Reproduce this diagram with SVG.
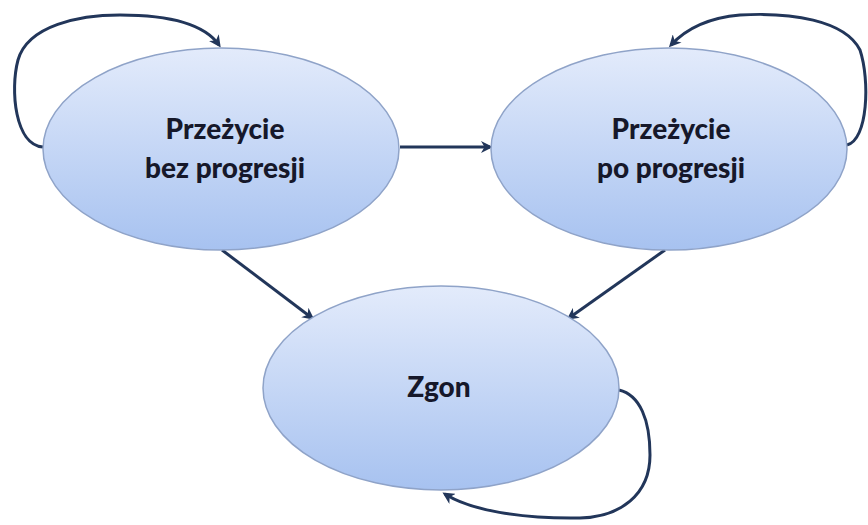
<svg xmlns="http://www.w3.org/2000/svg" width="868" height="525" viewBox="0 0 868 525">
<defs>
<linearGradient id="g" x1="0" y1="0" x2="0" y2="1">
<stop offset="0" stop-color="#e3ebfb"/>
<stop offset="1" stop-color="#a7c2f0"/>
</linearGradient>
<marker id="ah" markerWidth="12" markerHeight="12" refX="9" refY="6" orient="auto" markerUnits="userSpaceOnUse" viewBox="0 0 12 12">
<path d="M0,0 L12,6 L0,12 L3.5,6 Z" fill="#22365a"/>
</marker>
<style>
.node ellipse{fill:url(#g);stroke:#8fa3c8;stroke-width:1.5}
.node text{font-family:"Lato","Liberation Sans",sans-serif;font-weight:900;font-size:28px;fill:#16182a;text-anchor:middle}
.edges path{fill:none;stroke:#22365a;stroke-width:3;marker-end:url(#ah)}
</style>
</defs>
<rect width="868" height="525" fill="#ffffff"/>
<g class="edges">
<path d="M400,147 L490,147"/>
<path d="M222,250 L312,318"/>
<path d="M665,250 L569,318"/>
<path d="M43,147 C15,145 10,90 18,60 C28,25 80,15 120,15 C170,15 205,25 219,45"/>
<path d="M847,145 C868,140 870,80 860,50 C845,20 790,12 740,15 C705,18 685,30 671,45"/>
<path d="M619,390 C640,395 650,420 650,455 C650,495 620,517 580,518 C520,519 470,510 445,494"/>
</g>
<g id="n1" class="node">
<ellipse cx="221" cy="149" rx="178" ry="101"/>
<text x="225" y="139">Przeżycie</text>
<text x="225" y="178">bez progresji</text>
</g>
<g id="n2" class="node">
<ellipse cx="669" cy="149" rx="178" ry="101"/>
<text x="671" y="139">Przeżycie</text>
<text x="671" y="178">po progresji</text>
</g>
<g id="n3" class="node">
<ellipse cx="441" cy="388" rx="178" ry="102"/>
<text x="439" y="397">Zgon</text>
</g>
</svg>
